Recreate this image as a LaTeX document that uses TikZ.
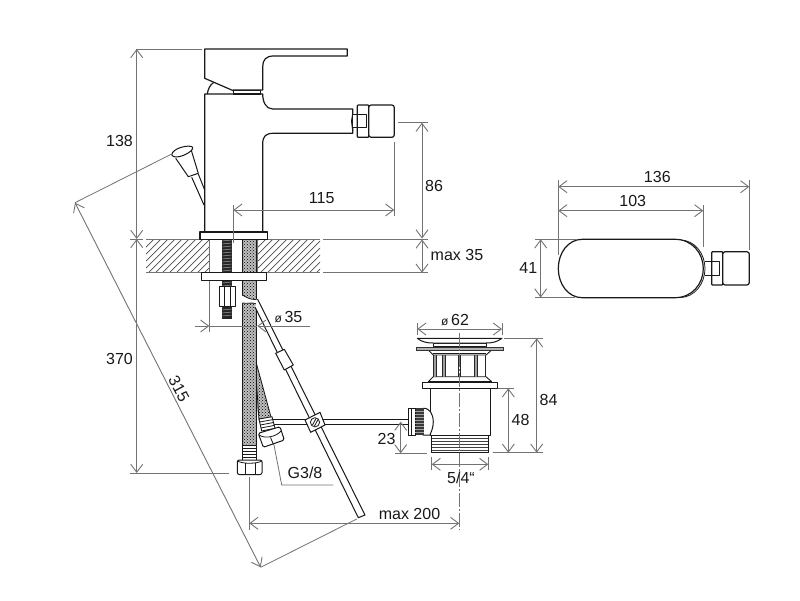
\documentclass[tikz,border=0pt]{standalone}
\usepackage{fontspec}
\setmainfont{Liberation Sans}
\usetikzlibrary{arrows.meta,patterns}
\definecolor{dimc}{gray}{0.45}
\definecolor{ink}{gray}{0.1}
\tikzset{
  lab/.style={text=ink,inner sep=0pt,font=\fontsize{16}{17}\selectfont},
  ext/.style={draw=dimc,line width=0.8pt},
  dimline/.style={draw=dimc,line width=0.9pt,{Straight Barb[length=8pt,width=12pt]}-{Straight Barb[length=8pt,width=12pt]}},
  dimone/.style={draw=dimc,line width=0.9pt,-{Straight Barb[length=8pt,width=12pt]}},
  body/.style={draw=ink,line width=1.2pt,line join=round},
  thin/.style={draw=ink,line width=0.8pt},
  white body/.style={body,fill=white},
  hose/.style={fill=gray!50,postaction={pattern=crosshatch dots,pattern color=black}},
  centre/.style={draw=dimc,line width=0.8pt,dash pattern=on 14pt off 2pt on 2pt off 2pt},
  hatchline/.style={draw=gray!60!black,line width=0.7pt}
}
\newcommand{\dia}{{\fontsize{12}{12}\selectfont ø}\,}
\begin{document}
\begin{tikzpicture}[x=1pt,y=-1pt]
\useasboundingbox (0,0) rectangle (800,600);
\fill[white] (0,0) rectangle (800,600);

% worktop section
\begin{scope}
  \clip (146,239) rectangle (209.3,272.7);
  \foreach \i in {120,127,...,215} \draw[hatchline] (\i,273) -- (\i+34,239);
\end{scope}
\begin{scope}
  \clip (257.3,239) rectangle (320,272.7);
  \foreach \i in {225,232,...,325} \draw[hatchline] (\i,273) -- (\i+34,239);
\end{scope}
\draw[ext] (146,239) -- (320,239);
\draw[ext] (146,272.7) -- (320,272.7);
\draw[ext] (323,239) -- (428.3,239);
\draw[ext] (323,272.7) -- (428.3,272.7);
\draw[ext] (209.3,239) -- (209.3,332);
\draw[ext] (257.3,239) -- (257.3,272.7);

% main hose and stud
\fill[hose] (256,362) -- (271,417) -- (259,420) -- (255,395) -- cycle;
\draw[thin] (256,362) -- (271,417) (255.5,368) -- (259,420);
\fill[hose] (242.3,239) rectangle (256.7,445);
\draw[thin] (242.3,239) -- (242.3,445) (256.7,239) -- (256.7,445);
\fill[white] (241,295) .. controls (246,297) and (250,300) .. (258,299) -- (258,304) .. controls (252,302) and (248,304) .. (241,303) -- cycle;
\draw[thin] (242.3,295) .. controls (246,297) and (250,300) .. (256.7,299.5);
\draw[thin] (242.3,303) .. controls (248,304) and (252,302) .. (256.7,304);
\fill[gray!30!black] (222.3,239) rectangle (231.7,319);
\foreach \i in {241,244,...,318} \draw[gray!70,line width=0.5pt] (222.3,\i) -- (231.7,\i-1);

% washer, nut
\draw[white body,line width=1pt] (201,272.7) rectangle (266,280);
\draw[white body,line width=0.9pt] (219,286.7) rectangle (235,306);
\draw[thin] (224,286.7) -- (224,306) (230,286.7) -- (230,306);

% rod
\draw[white body,line width=1pt] (255,307) -- (358.3,517.7) -- (365,515) -- (257.5,299);
\draw[white body,line width=1pt] (275.7,353.3) -- (284.3,349.3) -- (293.3,365) -- (284.3,370) -- cycle;

% cable to waste
\draw[draw=ink,line width=0.9pt] (273,419) -- (408,419) (273,424.5) -- (408,424.5);

% clamp
\draw[white body,line width=1pt] (305,420) -- (320,412.3) -- (325,425) -- (310.7,432.3) -- cycle;
\draw[thin] (315,422.3) circle (4.6);
\draw[thin] (312.5,425) -- (316,418.5) (314.5,426) -- (318,419.5);

% angled fitting
\draw[white body,line width=0.9pt] (259,419) -- (272,416.7) -- (275,428.3) -- (261.7,431) -- cycle;
\foreach \k in {1,2,3} \draw[thin] (259+\k*0.65,419+\k*3) -- (272+\k*0.75,416.7+\k*2.9);
\draw[white body,line width=1pt,rounded corners=1.5pt] (258.3,433.3) -- (280,426.7) -- (284.3,440) -- (263.3,447.3) -- cycle;
\draw[thin] (259,435) .. controls (265,439) and (276,437) .. (281,431);
\draw[thin] (270.5,437.5) -- (273.5,444.5);

% straight fitting
\draw[white body,line width=0.9pt] (242.7,445) rectangle (256.7,460);
\foreach \i in {448,451,454,457} \draw[thin] (242.7,\i) -- (256.7,\i);
\draw[white body,line width=1pt,rounded corners=2pt] (237.3,460) -- (262,460) -- (262,474.5) -- (237.3,474.5) -- cycle;
\draw[thin] (245,463) -- (245,474.5) (255,463) -- (255,474.5);
\draw[thin] (237.3,461) .. controls (243,464) and (256,464) .. (262,461);

% faucet
\draw[white body] (204.7,94) -- (204.7,231.7) -- (262.7,231.7) -- (262.7,144)
  .. controls (262.7,136) and (266,133.3) .. (273.3,133.3) -- (352.7,133.3) -- (352.7,109) -- (272.7,109)
  .. controls (266,109) and (262.7,102) .. (262.7,94) -- cycle;
\draw[body] (207.3,94) .. controls (208,89) and (210,85) .. (213.3,82.7);
\draw[white body] (233.3,90.7) rectangle (260.7,94);
\draw[white body] (204.7,49) -- (347.3,49) -- (347.3,56) -- (273.3,56)
  .. controls (266,56) and (262.7,60) .. (262.7,66.7) -- (262.7,90) -- (233.3,90) -- (233.3,90.7) -- (204.7,78.3) -- cycle;
\draw[white body] (200,232) rectangle (267.3,239.3);
% aerator
\draw[body,line width=1pt] (352.7,114) -- (351.5,121) -- (352.7,131);
\draw[white body,line width=1pt] (352.7,114) rectangle (366,127.3);
\draw[white body,rounded corners=0.8pt] (357.3,105) rectangle (368.7,137.3);
\draw[white body,rounded corners=2.5pt] (368.7,105) rectangle (394.3,137.3);
\draw[body,line width=1pt] (352.7,114) rectangle (366,127.3);

% pop-up knob
\draw[white body,line width=1pt] (175.7,158.3) -- (188.3,176.7) -- (198.3,173.3) -- (191,149.3);
\draw[body,line width=1pt] (191.7,177.3) -- (204,205) (198.3,174) -- (204.7,190);
\draw[white body,line width=1pt] (171.7,155) .. controls (172,148) and (190,144) .. (192.7,147.3) .. controls (194,152) and (175,161) .. cycle;

% dimensions - faucet
\draw[ext] (136,49) -- (201.7,49);
\draw[dimline] (136.7,49) -- (136.7,239);
\draw[dimline] (136.7,239) -- (136.7,473);
\draw[ext] (130,239) -- (143,239);
\draw[ext] (130,473) -- (229,473);
\draw[dimline] (75,202.7) -- (260.7,567.3);
\draw[ext] (171.7,154) -- (75,202.7);
\draw[ext] (356.7,519) -- (260.7,567.3);
\draw[ext] (398.3,122.7) -- (428.3,122.7);
\draw[dimline] (422,122.7) -- (422,238.5);
\draw[dimline] (422,239.5) -- (422,272.7);
\draw[ext] (233.3,205) -- (233.3,243);
\draw[ext] (394.3,141.7) -- (394.3,216);
\draw[dimline] (233.3,210) -- (394.3,210);
\draw[dimone] (195,326) -- (209.3,326);
\draw[ext] (209.3,326) -- (257.3,326);
\draw[dimc,line width=0.9pt,{Straight Barb[length=8pt,width=12pt]}-] (257.3,326) -- (310,326);
\draw[ext] (274,445) -- (281.7,485) -- (333.3,485);
\draw[ext] (249.3,477) -- (249.3,530);
\draw[dimline] (249.3,523.3) -- (459.3,523.3);

% waste - body
\draw[white body,line width=1pt] (430,388) -- (430,435) -- (490,435) -- (490,388);
\draw[white body,line width=0.9pt] (431.7,435) rectangle (488.3,452.7);
\foreach \i in {438,441,444,447,450} \draw[thin,line width=0.7pt,draw=gray!50!black] (431.7,\i) -- (488.3,\i);
\draw[white body,line width=0.9pt] (422.3,382.7) rectangle (497.3,388);
\draw[white body,line width=0.9pt] (428.3,381.7) -- (433.3,376.7) -- (486,376.7) -- (491.7,381.7);
\draw[thin] (428.3,381.7) -- (491.7,381.7);
\fill[gray!75] (433.3,355) rectangle (436,376.7) (442.7,355) rectangle (445.3,376.7) (474.3,355) rectangle (477,376.7);
\draw[thin,draw=gray!30!black] (433.3,355) -- (433.3,376.7) (436,355) -- (436,376.7) (442.7,355) -- (442.7,376.7) (445.3,355) -- (445.3,376.7) (458,355) -- (458,376.7) (460.5,355) -- (460.5,376.7) (474.3,355) -- (474.3,376.7) (477,355) -- (477,376.7) (485.5,355) -- (485.5,376.7);
\draw[white body,line width=0.9pt] (428.3,350) -- (433.3,355) -- (486,355) -- (491.7,350) -- cycle;
\draw[thin] (433,353.3) -- (486,353.3);
\draw[fill=gray!60,draw=gray!40!black,line width=0.7pt] (416,347) rectangle (503.3,350);
\draw[white body,line width=0.9pt] (433,346.7) rectangle (486,343);
\draw[white body,line width=1pt] (417.3,338.3) -- (502,338.3) .. controls (497,342) and (492,343) .. (486,343) -- (433,343) .. controls (427,343) and (422,342) .. (417.3,338.3) -- cycle;
% waste - side connection
\draw[white body,line width=1pt] (423,408.3) .. controls (430,408) and (433,414) .. (433.3,421.7) .. controls (433.3,428) and (431,432) .. (430,435) -- (423,435) -- cycle;
\fill[gray!45!black] (415,408.3) rectangle (423.5,435);
\draw[white body,line width=1pt] (408.3,408.3) rectangle (415,435);
\draw[thin] (411,408.3) -- (411,435);
\foreach \i in {411,414,...,433} \draw[gray!75,line width=0.5pt] (415,\i) -- (423.5,\i);
\draw[centre] (459.3,333) -- (459.3,530);

% dimensions - waste
\draw[ext] (417.3,323) -- (417.3,335);
\draw[ext] (502,323) -- (502,335);
\draw[dimline] (417.3,329) -- (502,329);
\draw[ext] (504,338.3) -- (542.7,338.3);
\draw[ext] (493.3,452.7) -- (542.7,452.7);
\draw[dimline] (536.7,338.3) -- (536.7,452.7);
\draw[ext] (498.3,388.3) -- (514,388.3);
\draw[dimline] (508.3,388.3) -- (508.3,452.7);
\draw[ext] (395,453.3) -- (426.7,453.3);
\draw[dimline] (400.7,421.7) -- (400.7,453.3);
\draw[ext] (431.7,456.7) -- (431.7,470);
\draw[ext] (488.3,456.7) -- (488.3,470);
\draw[dimline] (431.7,464.3) -- (488.3,464.3);

% top view
\draw[body,line width=0.8pt] (680,240) .. controls (695,240) and (705,254) .. (705,268.5) .. controls (705,283) and (695,297.5) .. (680,297.5);
\draw[white body] (582.3,239.3) -- (675,239.3) .. controls (692,239.3) and (703.3,253) .. (703.3,268.5) .. controls (703.3,284) and (692,297.7) .. (675,297.7) -- (582.3,297.7) .. controls (568,297.7) and (558.3,284) .. (558.3,268.5) .. controls (558.3,253) and (568,239.3) .. (582.3,239.3) -- cycle;
\draw[body,line width=1pt] (705.3,261.7) -- (711.7,261.7) (705.3,275) -- (711.7,275);
\draw[white body,rounded corners=0.8pt] (711.7,251.7) rectangle (722.7,285);
\draw[white body,rounded corners=2.5pt] (722.7,251.7) rectangle (749.3,285);
\draw[body,line width=1pt] (711.7,261.7) rectangle (719.3,275);
\draw[ext] (558.3,180) -- (558.3,255);
\draw[ext] (749.3,180) -- (749.3,250);
\draw[ext] (703.3,205) -- (703.3,247);
\draw[dimline] (558.3,186.7) -- (749.3,186.7);
\draw[dimline] (558.3,210.7) -- (703.3,210.7);
\draw[ext] (535,239.3) -- (576.7,239.3);
\draw[ext] (535,297.5) -- (575,297.5);
\draw[dimline] (540.7,239.3) -- (540.7,297.5);

% labels
\node[lab] (t138) at (119.5,141) {138};
\node[lab] (t370) at (119.5,359) {370};
\node[lab,rotate=-62] (t315) at (179,388.5) {315};
\node[lab] (t115) at (321.7,198.3) {115};
\node[lab,anchor=west] (t86) at (425,186) {86};
\node[lab,anchor=west] (tmax35) at (430.5,255) {max 35};
\node[lab] (td35) at (288.5,316.7) {\dia 35};
\node[lab] (tg38) at (305,473) {G3/8};
\node[lab] (tmax200) at (409.5,514) {max 200};
\node[lab] (td62) at (455,320) {\dia 62};
\node[lab] (t84) at (548.5,399.5) {84};
\node[lab] (t48) at (520.5,419.5) {48};
\node[lab] (t23) at (386.5,438.5) {23};
\node[lab] (t54) at (461,477.5) {5/4“};
\node[lab] (t136) at (657.3,176.7) {136};
\node[lab] (t103) at (632.7,200.7) {103};
\node[lab] (t41) at (528.3,268.3) {41};
\end{tikzpicture}
\end{document}
